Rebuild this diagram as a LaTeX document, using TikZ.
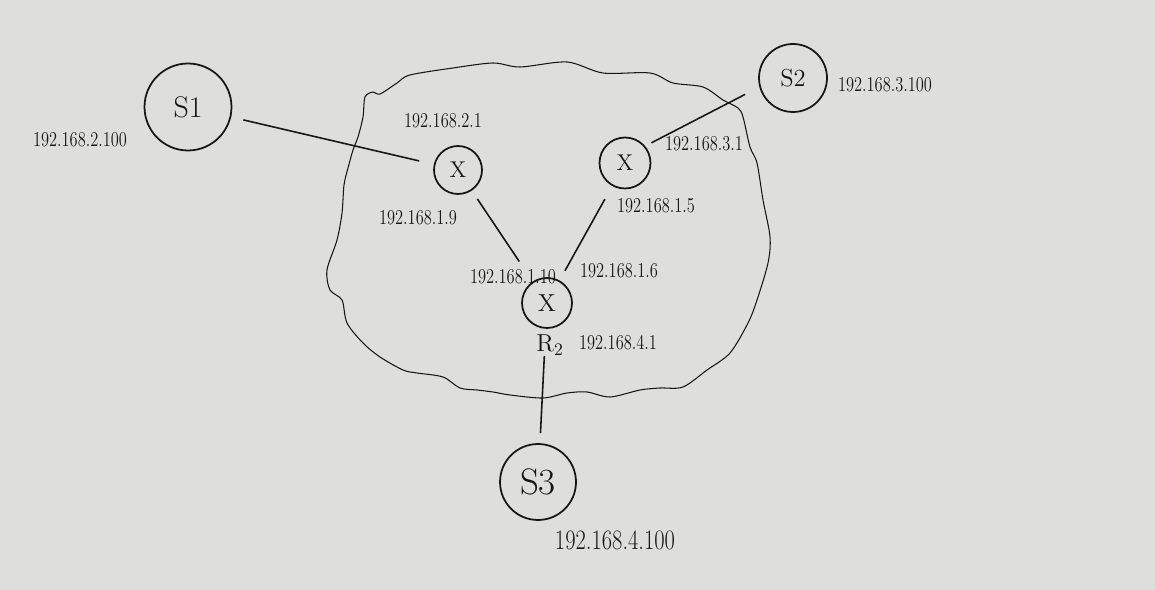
\documentclass[tikz,border=0pt]{standalone}
\definecolor{paper}{RGB}{222,222,220}
\definecolor{ink}{RGB}{22,22,22}
\newcommand{\hw}[1]{\scalebox{0.78}[1]{#1}}
\begin{document}
\begin{tikzpicture}[x=0.02cm,y=-0.02cm,
  dev/.style={circle,draw=ink,line width=1pt,inner sep=0pt,text=ink},
  lbl/.style={text=ink,font=\fontsize{12}{14}\selectfont,inner sep=0pt},
  link/.style={draw=ink,line width=0.9pt},
  cloudline/.style={draw=ink,line width=0.6pt}]
\fill[paper] (0,0) rectangle (1155,590);
\useasboundingbox (0,0) rectangle (1155,590);
% network cloud
\draw[cloudline] plot[smooth cycle, tension=0.5] coordinates {
(365,97) (373,92) (380,94) (397,83) (410,75) (453,68) (493,63) (520,67)
(567,62) (603,73) (650,73) (673,83) (703,87) (723,100) (738,108) (743,117)
(750,147) (757,163) (763,200) (770,237) (768,263) (757,300) (748,323)
(730,353) (707,370) (683,387) (660,388) (640,390) (610,397) (587,392)
(567,393) (543,398) (510,395) (493,392) (477,390) (460,388) (443,377)
(417,373) (403,370) (380,357) (363,343) (347,323) (342,300) (330,290)
(327,270) (337,240) (342,213) (344,185) (348,168) (353,150) (358,137) (363,117)};
% devices
\node[dev,minimum size=1.74cm,font=\fontsize{17}{20}\selectfont] (s1) at (188,107) {S1};
\node[dev,minimum size=1.36cm,font=\fontsize{14}{16}\selectfont] (s2) at (793,78) {S2};
\node[dev,minimum size=1.52cm,font=\fontsize{21}{24}\selectfont] (s3) at (538,482) {S3};
\node[dev,minimum size=0.96cm,font=\fontsize{13}{15}\selectfont] (r1) at (458,170) {X};
\node[dev,minimum size=1.02cm,font=\fontsize{13}{15}\selectfont] (r3) at (625,163) {X};
\node[dev,minimum size=1.00cm,font=\fontsize{14}{16}\selectfont] (r2) at (547,303) {X};
% links
\draw[link,shorten <=0.25cm,shorten >=0.3cm] (s1) -- (r1);
\draw[link,shorten <=0.32cm,shorten >=0.14cm] (s2.195) -- (r3.40);
\draw[link,shorten <=0.2cm,shorten >=0.48cm] (r1) -- (r2);
\draw[link,shorten <=0.3cm,shorten >=0.22cm] (r3) -- (r2);
\draw[link,shorten <=0.54cm,shorten >=0.2cm] (r2) -- (s3);
% address labels
\node[lbl] (l1) at (80,140) {\hw{192.168.2.100}};
\node[lbl] (l2) at (443,121) {\hw{192.168.2.1}};
\node[lbl] (l3) at (418,218) {\hw{192.168.1.9}};
\node[lbl] (l4) at (885,85) {\hw{192.168.3.100}};
\node[lbl] (l5) at (704,144) {\hw{192.168.3.1}};
\node[lbl] (l6) at (656,206) {\hw{192.168.1.5}};
\node[lbl] (l7) at (513,277) {\hw{192.168.1.10}};
\node[lbl] (l8) at (619,271) {\hw{192.168.1.6}};
\node[lbl,font=\fontsize{14}{16}\selectfont] (l9) at (550,345) {R$_2$};
\node[lbl] (l10) at (618,343) {\hw{192.168.4.1}};
\node[lbl,font=\fontsize{16}{18}\selectfont] (l11) at (615,540) {\scalebox{0.8}[1]{192.168.4.100}};
\end{tikzpicture}
\end{document}
